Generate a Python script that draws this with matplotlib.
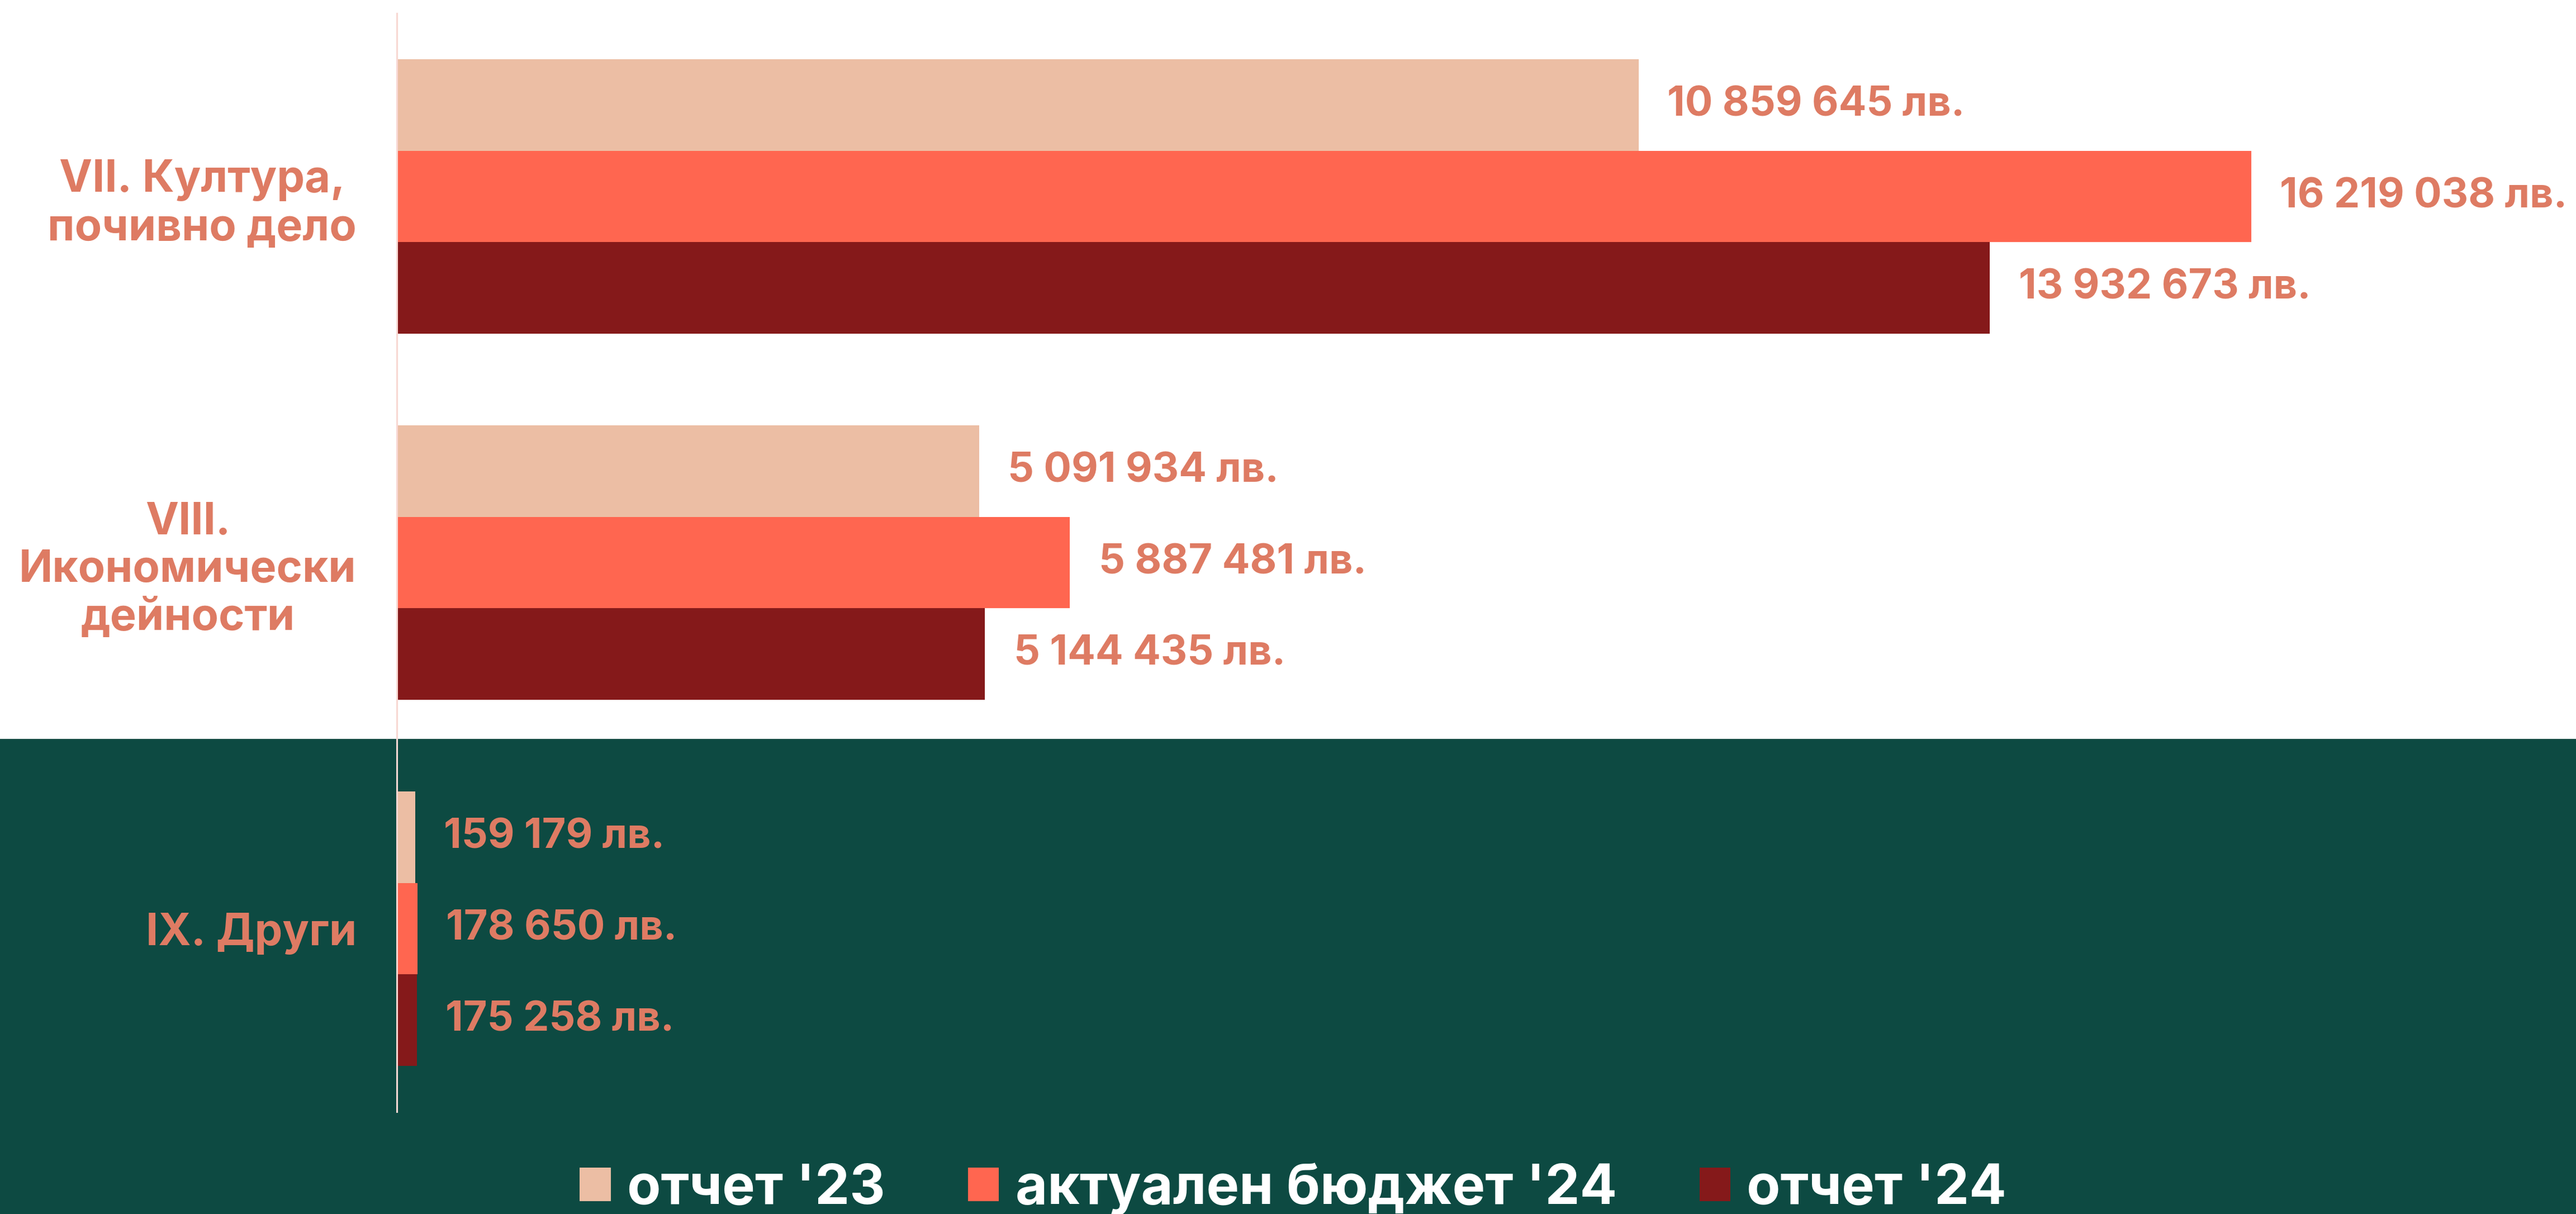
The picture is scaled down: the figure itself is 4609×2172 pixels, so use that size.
import matplotlib
matplotlib.use('Agg')
import matplotlib.pyplot as plt
from matplotlib.patches import Rectangle
import numpy as np

plt.rcParams['font.family'] = ['Inter', 'DejaVu Sans']
plt.rcParams['font.weight'] = 'bold'

categories = ['VII. Култура,\nпочивно дело', 'VIII.\nИкономически\nдейности', 'IX. Други']
series_names = ["отчет '23", "актуален бюджет '24", "отчет '24"]
report_23 = [10859645, 5091934, 159179]
budget_24 = [16219038, 5887481, 178650]
report_24 = [13932673, 5144435, 175258]

colors = ['#ECBEA4', '#FF6650', '#85191A']
label_color = '#DE7B63'
green = '#0D4A42'


def fmt(v):
    return '{:,}'.format(v).replace(',', ' ') + ' лв.'


fig = plt.figure(figsize=(46.09, 21.72), dpi=100)
fig.patch.set_facecolor('white')
fig.patches.append(Rectangle((0, 0), 1, 850 / 2172, transform=fig.transFigure,
                             facecolor=green, edgecolor='none', zorder=-1))

ax = fig.add_axes([710 / 4609, 1 - 1989 / 2172, 3887 / 4609, 1965 / 2172])
ax.set_facecolor('none')
ax.set_zorder(1)

y = np.arange(len(categories))
h = 0.25
handles = []
for k, vals in enumerate([report_23, budget_24, report_24]):
    pos = y + (k - 1) * h
    b = ax.barh(pos, vals, height=h, color=colors[k], label=series_names[k], zorder=2)
    handles.append(b)
    for p, v in zip(pos, vals):
        ax.annotate(fmt(v), xy=(v, p), xytext=(37, 0), textcoords='offset points',
                    ha='left', va='center', fontsize=53, fontweight='bold',
                    color=label_color)

ax.set_xlim(0, 19e6)
ax.set_ylim(2.5, -0.5)
ax.set_xticks([])
ax.set_yticks(y)
ax.set_yticklabels(categories, fontsize=57, fontweight='bold', color=label_color)
for t in ax.get_yticklabels():
    t.set_multialignment('center')
    t.set_linespacing(1.2)
ax.tick_params(axis='y', length=0, pad=52)
for s in ['top', 'right', 'bottom']:
    ax.spines[s].set_visible(False)
ax.spines['left'].set_color('#F8D8D3')
ax.spines['left'].set_linewidth(2.2)

leg = fig.legend(handles=handles, labels=series_names, loc='lower center',
                 bbox_to_anchor=(0.502, -0.024), ncol=3, frameon=False,
                 prop={'size': 71, 'weight': 'bold'}, labelcolor='white',
                 handlelength=0.56, handleheight=0.56, handletextpad=0.3,
                 columnspacing=1.5, borderpad=0)

fig.savefig('out.png', dpi=100, facecolor=fig.get_facecolor())
